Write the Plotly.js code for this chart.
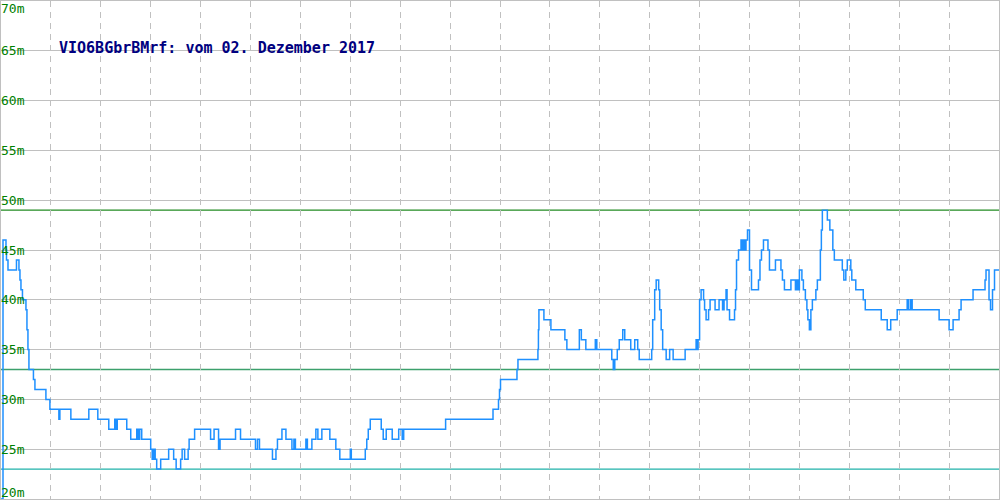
<!DOCTYPE html>
<html>
<head>
<meta charset="utf-8">
<script src="https://cdn.plot.ly/plotly-3.0.1.min.js"></script>
<style>html,body{margin:0;padding:0;background:#fff;}#chart{width:1000px;height:500px;}</style>
</head>
<body>
<div id="chart"></div>
<script>
// time position (sample index along the day) and level in metres
const sampleX = [0,2,5,5.5,7,15.5,18,19,20,21.5,25,26,27,28,32.5,34,45,49,58,59,70,88,97,108,114,115,116.5,126,130,136,137.5,139,141,150,151.5,153,154.5,156,160,168,173,175.5,180,181.5,184,187.5,188.5,194,210,213.5,218,219.5,235,240,
255,257,259,272,275.5,277,281.5,285.5,291.5,293.5,295,305.5,307,311.5,315.5,317.5,321.5,329.5,335.5,339.5,350,351,365,366.5,368,370,381,383,386,392,398.5,402,403.5,445.5,493,498.5,499.5,500.5,
517,518,538,538.5,539,544,551,565,567,579.5,581.5,586,595.5,597,612,613.5,615,617.5,619.5,623,625,631,635,638,639.5,652,653,655,656.5,659,660,661.5,663,666.5,670,673.5,685.5,696.5,697.5,698.5,
700,701.5,704,705,706.5,709,710.5,715.5,719.5,723,724.5,726.5,727.5,730,735,736,737,739,741.5,742.5,744,745,746.5,748,750,752,759,760.5,762,764,768.5,770,776,781.5,783,785,791.5,796,797,798.5,800,802.5,804,806,807.5,808.5,810,811.5,813,816.5,818,821,822,823,828,830.5,833.5,835,843,844.5,846.5,848,851.5,852.5,856.5,864,866,882,888,891.5,898,908,909.5,911.5,913,940,950,954,960,962,974,986,987,990,991.5,993.5,995.5,1000];
const levelM = [20,46,45,44,43,44,43,42,41,40,39,37,35,33,32,31,30,29,28,29,28,29,28,27,28,27,28,27,26,27,26,27,26,25,24,25,24,23,24,25,24,23,24,25,24,25,26,27,26,27,25,26,27,26,
25,26,25,24,25,26,27,26,25,26,25,26,25,26,27,26,27,26,25,24,25,24,25,26,27,28,27,26,27,26,27,26,27,28,29,30,31,32,
33,34,35,37,39,38,37,36,35,37,36,35,36,35,34,33,34,35,36,37,36,35,36,35,34,35,38,41,42,41,39,37,35,34,35,34,35,36,35,36,
40,41,40,39,38,39,40,39,40,39,40,41,39,38,39,41,44,45,46,45,46,45,46,47,43,41,42,44,45,46,45,43,44,43,42,41,42,41,42,41,43,42,41,40,39,38,37,39,40,41,42,45,47,49,48,47,45,44,43,42,43,44,43,42,41,40,39,38,37,38,39,40,39,40,39,38,37,38,39,40,41,42,43,40,39,41,43,43];

const tickVals = [20,25,30,35,40,45,50,55,60,65,70];
const tickText = ["20m","25m","30m","35m","40m","45m","50m","55m","60m","65m","70m"];
const limitVals = [49,33,23];
const limitColors = ["#228b22","#3ca06c","#20b2aa"];
const titleText = "VIO6BGbrBMrf: vom 02. Dezember 2017";

const trace = {
  x: sampleX, y: levelM, type: "scatter", mode: "lines",
  line: {color: "#1e90ff", width: 1.5, shape: "hv"},
  hoverinfo: "skip", showlegend: false, cliponaxis: true
};

const shapes = limitVals.map((v, i) => ({
  type: "line", xref: "paper", x0: 0, x1: 1, yref: "y", y0: v, y1: v,
  line: {color: limitColors[i], width: 1.3}, layer: "between"
}));

const annotations = tickVals.map((v, i) => ({
  xref: "paper", x: 0, xanchor: "left", xshift: -2,
  yref: "y", y: v,
  yanchor: i === 0 ? "bottom" : (i === tickVals.length - 1 ? "top" : "middle"),
  yshift: i === 0 ? -3 : (i === tickVals.length - 1 ? 2 : 0),
  text: tickText[i], showarrow: false,
  font: {family: "DejaVu Sans Mono, monospace", size: 13, color: "#008000"}
}));

const layout = {
  width: 1000, height: 500,
  margin: {l: 1, r: 1, t: 1, b: 1, pad: 0},
  paper_bgcolor: "#ffffff", plot_bgcolor: "#ffffff",
  title: {
    text: "<b>" + titleText + "</b>",
    x: 59 / 1000, xanchor: "left", xref: "container",
    y: 1 - 48 / 500, yanchor: "middle", yref: "container",
    font: {family: "DejaVu Sans Mono, monospace", size: 15, color: "#000080"}
  },
  xaxis: {
    range: [0, 1000], tick0: 0, dtick: 50, showticklabels: false, ticks: "",
    showgrid: true, gridcolor: "#c0c0c0", gridwidth: 1, griddash: "6px,5px",
    zeroline: false, showline: true, mirror: true, linecolor: "#c0c0c0", linewidth: 1,
    fixedrange: true
  },
  yaxis: {
    range: [20, 70], tickvals: tickVals, showticklabels: false, ticks: "",
    showgrid: true, gridcolor: "#c0c0c0", gridwidth: 1,
    zeroline: false, showline: true, mirror: true, linecolor: "#c0c0c0", linewidth: 1,
    fixedrange: true
  },
  shapes: shapes,
  annotations: annotations,
  showlegend: false
};

Plotly.newPlot("chart", [trace], layout, {displayModeBar: false, staticPlot: true});
</script>
</body>
</html>
